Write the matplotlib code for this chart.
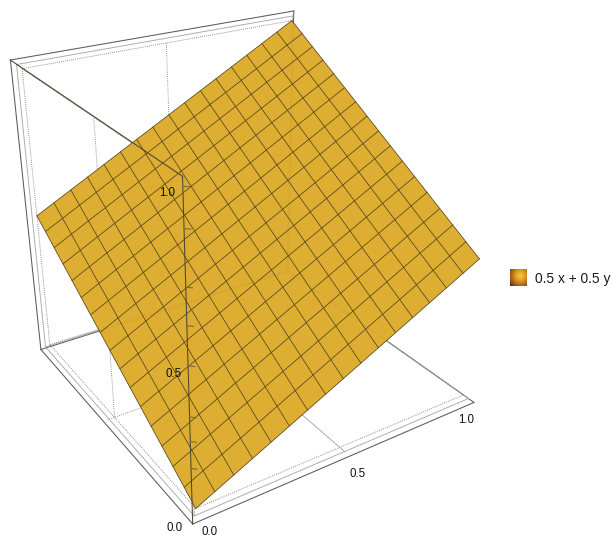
import numpy as np
import matplotlib
matplotlib.use('Agg')
import matplotlib.pyplot as plt
from matplotlib.colors import LinearSegmentedColormap
from mpl_toolkits.mplot3d import proj3d

plt.rcParams['font.family'] = ['Liberation Sans', 'DejaVu Sans']

legend_label = '0.5 x + 0.5 y'
x_coef = 0.5
y_coef = 0.5
surface_range = [0.0, 1.0]
mesh_levels = [0.0, 0.0625, 0.125, 0.1875, 0.25, 0.3125, 0.375, 0.4375, 0.5,
               0.5625, 0.625, 0.6875, 0.75, 0.8125, 0.875, 0.9375, 1.0]
z_tick_values = [1.0, 0.89, 0.73, 0.62, 0.5, 0.34, 0.26, 0.17]
z_tick_labels = [0.5, 1.0]
x_tick_labels = [0.0, 0.5, 1.0]
y_tick_labels = [0.0]

W, H = 613, 539
PAD = 0.025
SURFACE_COLOR = '#dcaa27'
MESH_COLOR = '#54441c'

# label nudges in data units, one per x tick label
X_LABEL_DX = [-0.005, -0.016, -0.065]
X_LABEL_DY = [-0.082, -0.107, -0.085]

# camera calibration: cube / surface points and where they land in the image
CALIB_3D = [(-PAD, -PAD, -PAD), (1 + PAD, -PAD, -PAD), (-PAD, 1 + PAD, -PAD),
            (-PAD, -PAD, 1 + PAD), (-PAD, 1 + PAD, 1 + PAD), (1 + PAD, 1 + PAD, 1 + PAD),
            (0, 0, 0), (1, 0, 0.5), (0, 1, 0.5), (1, 1, 1)]
CALIB_PX = [(193, 522), (473, 402), (39, 349),
            (180, 175), (11, 61), (293, 11),
            (198, 511), (480, 260), (38, 216), (293, 20)]


def fit_camera(ax):
    # DLT fit of a 3x4 camera, then expanded to the 4x4 matrix mplot3d wants
    px = np.array(CALIB_PX, dtype=float)
    disp = np.column_stack([px[:, 0], H - px[:, 1]])
    uv = ax.transData.inverted().transform(disp) * 10
    rows = []
    for (x, y, z), (u, v) in zip(CALIB_3D, uv):
        rows.append([x, y, z, 1, 0, 0, 0, 0, -u * x, -u * y, -u * z, -u])
        rows.append([0, 0, 0, 0, x, y, z, 1, -v * x, -v * y, -v * z, -v])
    p = np.linalg.svd(np.array(rows))[2][-1].reshape(3, 4)
    p = p / p[2, 3]
    return np.array([p[0] / 10, p[1] / 10, [0.1, 0.2, 0.3, -1.0], p[2]])


def height(x, y):
    return x_coef * x + y_coef * y


def draw_box(ax, lo, hi, zorder, zorder_front, color, front_color, **style):
    edges = [((lo, lo, lo), (hi, lo, lo)), ((lo, lo, lo), (lo, hi, lo)),
             ((lo, hi, lo), (lo, hi, hi)), ((lo, hi, hi), (hi, hi, hi)),
             ((hi, hi, hi), (hi, hi, lo)), ((hi, hi, lo), (lo, hi, lo)),
             ((hi, hi, lo), (hi, lo, lo))]
    front = [((lo, lo, lo), (lo, lo, hi)), ((lo, hi, hi), (lo, lo, hi))]
    for a, b in edges:
        ax.plot(*zip(a, b), zorder=zorder, color=color, **style)
    for a, b in front:
        ax.plot(*zip(a, b), zorder=zorder_front, color=front_color, **style)


def tick_label(ax, x, y, z, s):
    xp, yp, _ = proj3d.proj_transform(x, y, z, camera)
    ax.text2D(xp, yp, s, transform=ax.transData, fontsize=8.3, color='#111111',
              ha='center', va='center', zorder=6)


fig = plt.figure(figsize=(W / 100, H / 100), dpi=100)
ax = fig.add_axes([0, (H - W) / 2 / H, 1, W / H], projection='3d', computed_zorder=False)
ax.set_proj_type('ortho')
ax.set_axis_off()
ax.apply_aspect()
camera = fit_camera(ax)
ax.get_proj = lambda: camera

# box frames
draw_box(ax, -PAD, 1 + PAD, 1, 5, '#5a5a5a', '#4d4530', lw=0.75)
draw_box(ax, -0.012, 1.012, 1, 1, '#a8a8a8', '#a8a8a8', lw=0.65)
draw_box(ax, 0.0, 1.0, 1, 1, '#808080', '#808080', lw=0.65, ls=(0, (1, 1.3)))

# face grids
grid = dict(color='#8a8a8a', lw=0.65, ls=(0, (1, 1.3)), zorder=1)
ax.plot([0, 0], [0.5, 0.5], [0, 1], **grid)
ax.plot([0.5, 0.5], [1, 1], [0, 1], **grid)
ax.plot([0.5, 0.5], [-PAD, 1], [0, 0], color='#a0a0a0', lw=0.6, zorder=1)
ax.plot([-PAD, 1], [0.5, 0.5], [0, 0], **grid)
ax.plot([0, 0], [0, 1], [0.5, 0.5], **grid)
ax.plot([0, 1], [1, 1], [0.5, 0.5], **grid)

# surface
sx, sy = np.meshgrid(surface_range, surface_range)
ax.plot_surface(sx, sy, height(sx, sy), color=SURFACE_COLOR, shade=False, alpha=0.95,
                linewidth=0, antialiased=True, zorder=2)
for v in mesh_levels:
    ax.plot([v, v], surface_range, [height(v, 0), height(v, 1)], color=MESH_COLOR, lw=0.55, zorder=3)
    ax.plot(surface_range, [v, v], [height(0, v), height(1, v)], color=MESH_COLOR, lw=0.55, zorder=3)

# z ticks on the front edge
for z in z_tick_values:
    ax.plot([-PAD, -PAD + 0.012], [-PAD, -PAD - 0.012], [z, z], color='#7a6a3a', lw=0.8, zorder=5)

for z in z_tick_labels:
    tick_label(ax, -0.07, -0.03, z - 0.004, f'{z:.1f}')
for x, dx, dy in zip(x_tick_labels, X_LABEL_DX, X_LABEL_DY):
    tick_label(ax, x + dx, dy, -0.02, f'{x:.1f}')
for y in y_tick_labels:
    tick_label(ax, -0.073, y - 0.006, -0.03, f'{y:.1f}')

# legend swatch
swatch_ax = fig.add_axes([510 / W, 1 - 286 / H, 17 / W, 17 / H])
swatch_ax.axis('off')
cmap = LinearSegmentedColormap.from_list('swatch', ['#5f3312', '#b06a1a', '#e6a024', '#f6c63e'])
gy, gx = np.mgrid[0:1:32j, 0:1:32j]
glow = 1 - np.hypot(gx - 0.62, gy - 0.42) / 0.8
swatch_ax.imshow(glow, cmap=cmap, vmin=0, vmax=1, interpolation='bilinear', aspect='auto')
fig.text(535 / W, 1 - 279 / H, legend_label, fontsize=9.9, color='#1a1a1a', ha='left', va='center')

fig.savefig('out.png', dpi=100)
